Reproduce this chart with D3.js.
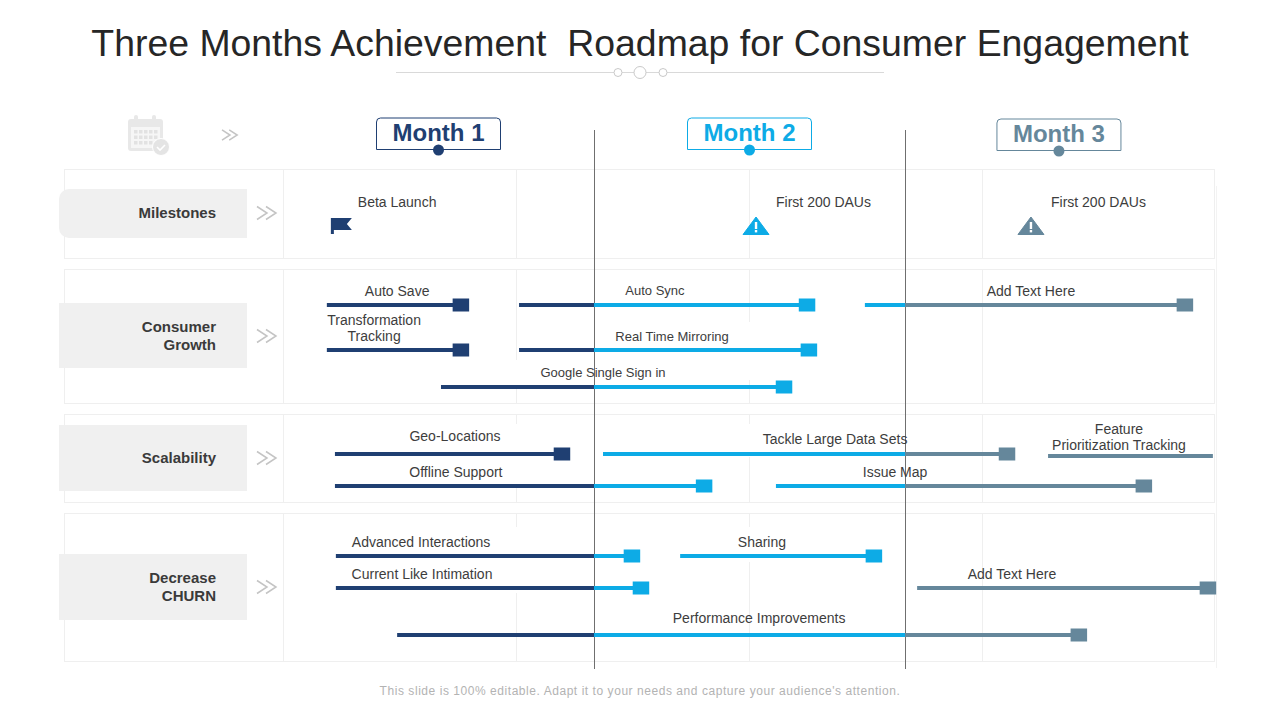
<!DOCTYPE html>
<html>
<head>
<meta charset="utf-8">
<script src="https://cdn.jsdelivr.net/npm/d3@7"></script>
<style>
html, body { margin: 0; padding: 0; background: #fff; }
svg { display: block; }
text { font-family: "Liberation Sans", Arial, sans-serif; white-space: pre; }
</style>
</head>
<body>
<script>
// values, time is in months from the start of the roadmap
var months = ["Month 1", "Month 2", "Month 3"];
var monthMarks = [0.5, 1.5, 2.495];
var gridMonths = [0, 0.75, 1.5, 2.25];
var rowNames = [["Milestones"], ["Consumer", "Growth"], ["Scalability"], ["Decrease", "CHURN"]];

var milestoneNames = ["Beta Launch", "First 200 DAUs", "First 200 DAUs"];
var milestoneTimes = [0.17, 1.521, 2.405];
var milestoneTypes = ["flag", "warn", "warn"];

var taskNames = [
  ["Auto Save"], ["Auto Sync"], ["Add Text Here"],
  ["Transformation", "Tracking"], ["Real Time Mirroring"],
  ["Google Single Sign in"],
  ["Geo-Locations"], ["Tackle Large Data Sets"], ["Feature", "Prioritization Tracking"],
  ["Offline Support"], ["Issue Map"],
  ["Advanced Interactions"], ["Sharing"],
  ["Current Like Intimation"], ["Add Text Here"],
  ["Performance Improvements"]
];
var taskStart = [0.141, 0.759, 1.871, 0.141, 0.759, 0.508, 0.167, 1.029, 2.460, 0.167, 1.585, 0.170, 1.277, 0.170, 2.039, 0.367];
var taskEnd = [0.572, 1.685, 2.900, 0.572, 1.691, 1.611, 0.897, 2.328, 2.990, 1.354, 2.768, 1.122, 1.900, 1.151, 2.974, 2.559];
var taskLane = [0, 0, 0, 1, 1, 2, 3, 3, 4, 5, 5, 6, 6, 7, 7, 8];
var taskHasEnd = [1, 1, 1, 1, 1, 1, 1, 1, 0, 1, 1, 1, 1, 1, 1, 1];

var footer = "This slide is 100% editable. Adapt it to your needs and capture your audience's attention.";
var title = "Three Months Achievement  Roadmap for Consumer Engagement";

// layout
var width = 1280, height = 720;
var navy = "#1f3f72", cyan = "#0dabe6", steel = "#65879b";

var x = d3.scaleLinear().domain([0, 3]).range([283, 1216]);
var laneY = d3.scaleOrdinal().domain(d3.range(9)).range([305, 350, 387, 454, 456, 486, 556, 588, 635]);
var monthColor = d3.scaleThreshold().domain([1, 2]).range([navy, cyan, steel]);

var rowBox = [[169, 259], [269, 404], [414, 503], [513, 662]];
var rowTag = [[189, 238], [303, 368], [425, 491], [554, 620]];
var tagChevron = [213, 336, 458, 587];
// stretches where the light gridlines are covered in the slide
var gridGaps = [[0.75, 360, 388], [0.75, 424, 488], [0.75, 527, 593], [1.5, 322, 380], [1.5, 424, 457], [1.5, 527, 562]];

// label spot for each task: centre in months, first line baseline, font size
var taskLabelX = [0.367, 1.196, 2.405, 0.293, 1.251, 1.029, 0.553, 1.775, 2.688, 0.556, 1.968, 0.444, 1.540, 0.447, 2.344, 1.531];
var taskLabelY = [296, 295, 296, 325, 341, 377, 441, 444, 434, 477, 477, 547, 547, 579, 579, 623];
var taskLabelSize = [14, 13, 14, 14, 13, 13, 14, 14, 14, 14, 14, 14, 14, 14, 14, 14];
var labelColor = "#3d3d3d";

function gridX(m){ return Math.floor(x(m)) + 0.5; }

var svg = d3.select("body").append("svg")
    .attr("width", width)
    .attr("height", height)
    .style("background", "white");

svg.append("text")
    .attr("x", 640)
    .attr("y", 56)
    .attr("text-anchor", "middle")
    .attr("font-size", 37.4)
    .attr("fill", "#262626")
    .text(title);

// little line and rings under the title
svg.append("line")
    .attr("x1", 396).attr("x2", 884)
    .attr("y1", 72.5).attr("y2", 72.5)
    .attr("stroke", "#d9d9d9");
svg.selectAll(".ring").data([[618, 4], [640, 6], [663, 4]]).enter().append("circle")
    .attr("class", "ring")
    .attr("cx", function(d){ return d[0]; })
    .attr("cy", 72.5)
    .attr("r", function(d){ return d[1]; })
    .attr("fill", "white")
    .attr("stroke", "#c9c9c9");

// row panels and month gridlines
var grid = svg.append("g").attr("stroke", "#efefef").attr("fill", "none");
grid.selectAll("rect").data(rowBox).enter().append("rect")
    .attr("x", 64.5)
    .attr("y", function(d){ return d[0] + 0.5; })
    .attr("width", 1150)
    .attr("height", function(d){ return d[1] - d[0] - 1; });
rowBox.forEach(function(box){
    grid.selectAll(null).data(gridMonths).enter().append("line")
        .attr("x1", gridX)
        .attr("x2", gridX)
        .attr("y1", box[0])
        .attr("y2", box[1]);
});
grid.append("line")
    .attr("x1", 1216.5).attr("x2", 1216.5)
    .attr("y1", 186).attr("y2", 668)
    .attr("stroke", "#f3f3f3");
svg.selectAll(".gap").data(gridGaps).enter().append("line")
    .attr("class", "gap")
    .attr("x1", function(d){ return gridX(d[0]); })
    .attr("x2", function(d){ return gridX(d[0]); })
    .attr("y1", function(d){ return d[1]; })
    .attr("y2", function(d){ return d[2]; })
    .attr("stroke", "white")
    .attr("stroke-width", 2);

// left hand tags
rowTag.forEach(function(tag, i){
    svg.append("path")
        .attr("d", i == 0
            ? "M247," + tag[0] + "V" + tag[1] + "H69a10,10 0 0 1 -10,-10V" + (tag[0] + 10) + "a10,10 0 0 1 10,-10Z"
            : "M247," + tag[0] + "V" + tag[1] + "H59V" + tag[0] + "Z")
        .attr("fill", "#f0f0f0");
    var mid = (tag[0] + tag[1]) / 2;
    var lines = rowNames[i];
    svg.selectAll(null).data(lines).enter().append("text")
        .attr("x", 216)
        .attr("y", function(d, k){ return mid + (i == 0 ? 4 : 5) + (k - (lines.length - 1) / 2) * 18; })
        .attr("text-anchor", "end")
        .attr("font-size", 15)
        .attr("font-weight", "bold")
        .attr("fill", "#3a3a3a")
        .text(function(d){ return d; });
    chevrons(257, tagChevron[i], 1);
});
chevrons(222, 135, 0.8);

function chevrons(cx, cy, k){
    [0, 9 * k].forEach(function(dx){
        svg.append("path")
            .attr("d", "M" + (cx + dx) + "," + (cy - 6.5 * k) + "l" + (10 * k) + "," + (6.5 * k) + "l" + (-10 * k) + "," + (6.5 * k))
            .attr("fill", "none")
            .attr("stroke", "#c4c4c4")
            .attr("stroke-width", 1.5);
    });
}

// calendar icon
var cal = svg.append("g").attr("transform", "translate(128,115)");
cal.append("rect").attr("x", 0).attr("y", 4).attr("width", 35).attr("height", 32).attr("rx", 3).attr("fill", "#e8e8e8");
cal.selectAll(".peg").data([8, 26]).enter().append("rect")
    .attr("class", "peg")
    .attr("x", function(d){ return d - 2; }).attr("y", 0).attr("width", 4).attr("height", 8).attr("rx", 2).attr("fill", "#e8e8e8");
cal.append("rect").attr("x", 3).attr("y", 12).attr("width", 29).attr("height", 21).attr("fill", "#f6f6f6");
d3.range(3).forEach(function(r){
    d3.range(5).forEach(function(c){
        cal.append("rect").attr("x", 6 + c * 5).attr("y", 15 + r * 5.5).attr("width", 3.5).attr("height", 3.5).attr("fill", "#e2e2e2");
    });
});
cal.append("circle").attr("cx", 33).attr("cy", 32).attr("r", 8.5).attr("fill", "#e4e4e4").attr("stroke", "white");
cal.append("path").attr("d", "M29,32l3,3l5,-5").attr("fill", "none").attr("stroke", "white").attr("stroke-width", 1.6);

// month dividers
svg.selectAll(".divider").data([1, 2]).enter().append("line")
    .attr("class", "divider")
    .attr("x1", gridX)
    .attr("x2", gridX)
    .attr("y1", 130)
    .attr("y2", 669)
    .attr("stroke", "#6f6f6f");

// month headers
var headTop = [117, 117, 118];
months.forEach(function(m, i){
    var cx = x(monthMarks[i]);
    var c = monthColor(monthMarks[i]);
    var t = headTop[i];
    var g = svg.append("g");
    g.append("path")
        .attr("d", "M" + (cx - 62) + "," + (t + 32.5) + "V" + (t + 5) + "a4,4 0 0 1 4,-4H" + (cx + 58) + "a4,4 0 0 1 4,4V" + (t + 32.5) + "Z")
        .attr("fill", "white")
        .attr("stroke", c);
    g.append("text")
        .attr("x", cx)
        .attr("y", t + 24)
        .attr("text-anchor", "middle")
        .attr("font-size", 24)
        .attr("font-weight", "bold")
        .attr("fill", c)
        .text(m);
    g.append("circle")
        .attr("cx", cx)
        .attr("cy", t + 33)
        .attr("r", 5.5)
        .attr("fill", c);
});

// milestones
milestoneNames.forEach(function(name, i){
    var t = milestoneTimes[i];
    var px = x(t);
    var c = monthColor(t);
    if (milestoneTypes[i] == "flag") {
        svg.append("path")
            .attr("d", "M" + (px - 5) + ",218h21l-5,6l5,6h-18v4h-3Z")
            .attr("fill", c);
    } else {
        var tri = svg.append("g").attr("transform", "translate(" + px + ",226)");
        tri.append("path").attr("d", "M0,-9L13,8.5H-13Z").attr("fill", c).attr("stroke", c).attr("stroke-linejoin", "round");
        tri.append("rect").attr("x", -1.2).attr("y", -4).attr("width", 2.4).attr("height", 7).attr("fill", "white");
        tri.append("rect").attr("x", -1.2).attr("y", 4).attr("width", 2.4).attr("height", 2.4).attr("fill", "white");
    }
});
var milestoneLabelX = [0.367, 1.738, 2.622];
svg.selectAll(".milestone").data(milestoneNames).enter().append("text")
    .attr("class", "milestone")
    .attr("x", function(d, i){ return x(milestoneLabelX[i]); })
    .attr("y", 207)
    .attr("text-anchor", "middle")
    .attr("font-size", 14)
    .attr("fill", labelColor)
    .text(function(d){ return d; });

// task lines, cut at each month boundary so every part takes its month's colour
taskNames.forEach(function(name, i){
    var y = laneY(taskLane[i]);
    var cuts = [taskStart[i]].concat([1, 2].filter(function(b){ return b > taskStart[i] && b < taskEnd[i]; }), [taskEnd[i]]);
    d3.pairs(cuts).forEach(function(p){
        svg.append("line")
            .attr("x1", x(p[0]))
            .attr("x2", x(p[1]))
            .attr("y1", y)
            .attr("y2", y)
            .attr("stroke", monthColor((p[0] + p[1]) / 2))
            .attr("stroke-width", 4);
    });
    if (taskHasEnd[i]) {
        svg.append("rect")
            .attr("x", x(taskEnd[i]) - 8.25)
            .attr("y", y - 6.5)
            .attr("width", 16.5)
            .attr("height", 13)
            .attr("fill", monthColor(taskEnd[i]));
    }
    svg.selectAll(null).data(name).enter().append("text")
        .attr("x", x(taskLabelX[i]))
        .attr("y", function(d, k){ return taskLabelY[i] + k * 16; })
        .attr("text-anchor", "middle")
        .attr("font-size", taskLabelSize[i])
        .attr("fill", labelColor)
        .text(function(d){ return d; });
});

svg.append("text")
    .attr("x", 640)
    .attr("y", 695)
    .attr("text-anchor", "middle")
    .attr("font-size", 12)
    .attr("letter-spacing", 0.55)
    .attr("fill", "#b3b3b3")
    .text(footer);
</script>
</body>
</html>
